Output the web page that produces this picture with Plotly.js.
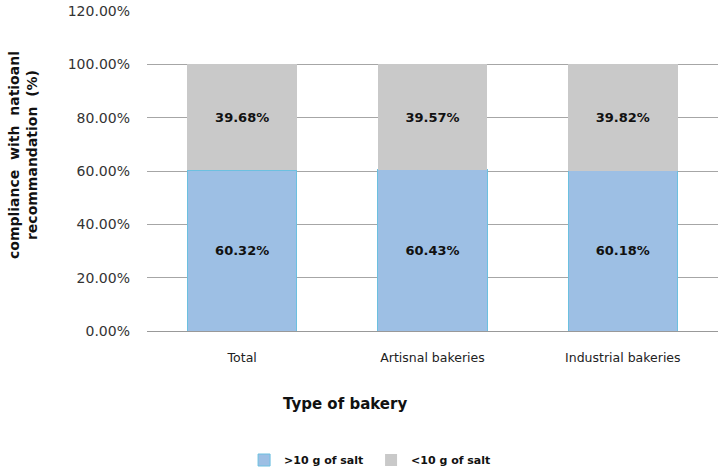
<!DOCTYPE html>
<html><head><meta charset="utf-8">
<script src="https://cdn.plot.ly/plotly-3.0.1.min.js"></script>
<style>html,body{margin:0;padding:0;background:#fff;}#chart{width:722px;height:469px;}</style>
</head><body><div id="chart"></div>
<script>
const categories = ["Total", "Artisnal bakeries", "Industrial bakeries"];
const above10 = [60.32, 60.43, 60.18];
const below10 = [39.68, 39.57, 39.82];
const seriesNames = [">10 g of salt", "<10 g of salt"];

const F = "DejaVu Sans, Verdana, sans-serif";
const traces = [
  {type:"bar", name:seriesNames[0], x:categories, y:above10,
   marker:{color:"#9dbfe4", line:{color:"#6cc0e0", width:1}},
   text: above10.map(v=>v.toFixed(2)+"%"), textposition:"inside", insidetextanchor:"middle",
   textfont:{family:F, size:13, color:"#111", weight:"bold"}, hoverinfo:"none"},
  {type:"bar", name:seriesNames[1], x:categories, y:below10,
   marker:{color:"#c9c9c9", line:{color:"#c9c9c9", width:0}},
   text: below10.map(v=>v.toFixed(2)+"%"), textposition:"inside", insidetextanchor:"middle",
   textfont:{family:F, size:13, color:"#111", weight:"bold"}, hoverinfo:"none"}
];
const layout = {
  width:722, height:469, paper_bgcolor:"#fff", plot_bgcolor:"#fff",
  margin:{l:147, r:4, t:11, b:138, autoexpand:false},
  barmode:"stack", bargap:0.425, showlegend:true,
  font:{family:F, color:"#222"},
  xaxis:{type:"category", showgrid:false, showline:true, linecolor:"#999", linewidth:1,
         ticks:"", tickfont:{family:F, size:12.5, color:"#222"}, ticklabelstandoff:15, automargin:false},
  yaxis:{range:[0,120], dtick:20, tickformat:".2f", ticksuffix:"%", showgrid:true,
         gridcolor:"#a6a6a6", gridwidth:1, zeroline:false, showline:false, ticks:"",
         tickfont:{family:F, size:14, color:"#333"}, ticklabelstandoff:16, automargin:false},
  legend:{orientation:"h", x:0.17, xanchor:"left", yref:"container", y:(469-460)/469, yanchor:"middle",
          font:{family:F, size:11, color:"#111", weight:"bold"}, itemwidth:30, traceorder:"normal",
          entrywidth:82, entrywidthmode:"pixels"},
  annotations:[
    {text:"Type of bakery", xref:"paper", yref:"paper", x:(345-147)/571, y:(331-404)/320,
     xanchor:"center", yanchor:"middle", showarrow:false, font:{family:F, size:15, color:"#111", weight:"bold"}},
    {text:"compliance  with  natioanl<br>recommandation  (%)", xref:"paper", yref:"paper",
     x:(23-147)/571, y:(331-155)/320, xanchor:"center", yanchor:"middle", textangle:-90,
     showarrow:false, font:{family:F, size:14, color:"#111", weight:"bold"}}
  ]
};
Plotly.newPlot("chart", traces, layout, {staticPlot:true});
</script></body></html>
